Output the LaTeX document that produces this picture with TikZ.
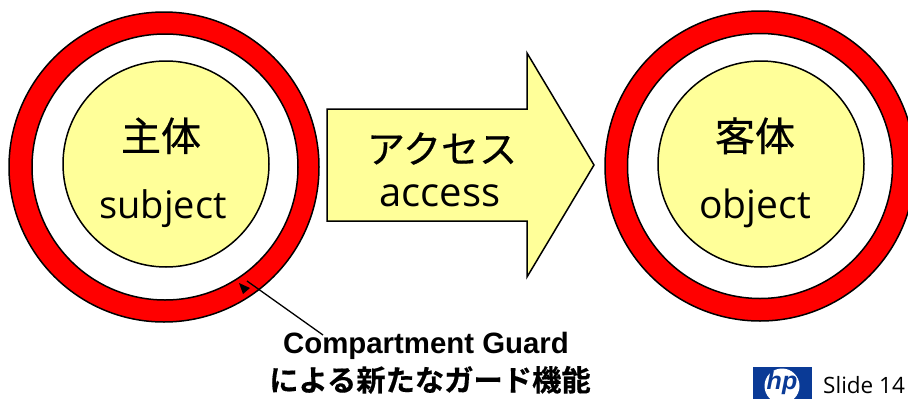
\documentclass[tikz,border=0pt]{standalone}
\usepackage{fontspec}
\setmainfont{Open Sans}
\newfontfamily\jpfont[FakeBold=0.5]{Noto Sans CJK JP}
\newfontfamily\labfont{Liberation Sans}
\newfontfamily\jpbold[BoldFont={Noto Sans CJK JP Bold},FakeBold=0.4]{Noto Sans CJK JP}
\definecolor{paleyellow}{HTML}{FFFF99}
\definecolor{ringred}{HTML}{FF0000}
\definecolor{hpblue}{HTML}{0A3A96}
\tikzset{
  ring/.style={circle,draw=black,line width=1.5pt,inner sep=0pt,outer sep=0pt},
  jp/.style={anchor=base,inner sep=0pt,font=\jpfont\fontsize{38}{38}\selectfont},
  en/.style={anchor=base,inner sep=0pt,font=\fontsize{38}{38}\selectfont},
}
\begin{document}
\begin{tikzpicture}[x=1pt,y=-1pt]
\useasboundingbox (0,0) rectangle (908,399);
% left rings
\node[ring,fill=ringred,minimum size=310pt] (lo) at (164,167) {};
\node[ring,fill=white,minimum size=266pt] (li) at (165,167) {};
\node[ring,fill=paleyellow,minimum size=206pt] (lc) at (166,164) {};
% right rings
\node[ring,fill=ringred,minimum size=310pt] (ro) at (760,166) {};
\node[ring,fill=white,minimum size=265pt] (ri) at (760,166) {};
\node[ring,fill=paleyellow,minimum size=206pt] (rc) at (761,164) {};
% arrow
\draw[line width=1.5pt,fill=paleyellow,line join=miter]
  (327,109) -- (527,109) -- (527,53) -- (594,165) -- (527,277) -- (527,221) -- (327,221) -- cycle;
% texts
\node[jp,font=\jpfont\fontsize{40}{40}\selectfont] (t1) at (161,151) {主体};
\node[en] (t2) at (163,218) {subject};
\node[jp] (t3) at (442,163) {アクセス};
\node[en,font=\fontsize{40}{40}\selectfont] (t4) at (440,206) {access};
\node[jp,font=\jpfont\fontsize{40}{40}\selectfont] (t5) at (755,151) {客体};
\node[en,font=\fontsize{39}{39}\selectfont] (t6) at (755,218) {object};
\node[anchor=base,inner sep=0pt,font=\labfont\bfseries\fontsize{29.4}{29.4}\selectfont] (t7) at (426,353) {Compartment Guard};
\node[anchor=base,inner sep=0pt,font=\jpbold\bfseries\fontsize{29.3}{29.3}\selectfont] (t8) at (430,391) {による新たなガード機能};
% pointer
\coordinate (ptail) at (323,335);
\coordinate (phead) at (247,281);
\draw[line width=1.3pt] (ptail) -- (phead);
\fill[black] (239,283) -- (250,288) -- (243,294) -- cycle;
% logo
\fill[hpblue] (753,367) rectangle (812,399);
\node[circle,fill=white,minimum size=35pt,inner sep=0pt] (hpc) at (782,386) {};
\node[inner sep=0pt,text=hpblue,font=\labfont\bfseries\itshape\fontsize{25}{25}\selectfont] (hp) at (782,383) {hp};
\node[anchor=base west,inner sep=0pt,font=\fontsize{22.5}{22.5}\selectfont] (sl) at (823,393) {Slide 14};
\end{tikzpicture}
\end{document}
